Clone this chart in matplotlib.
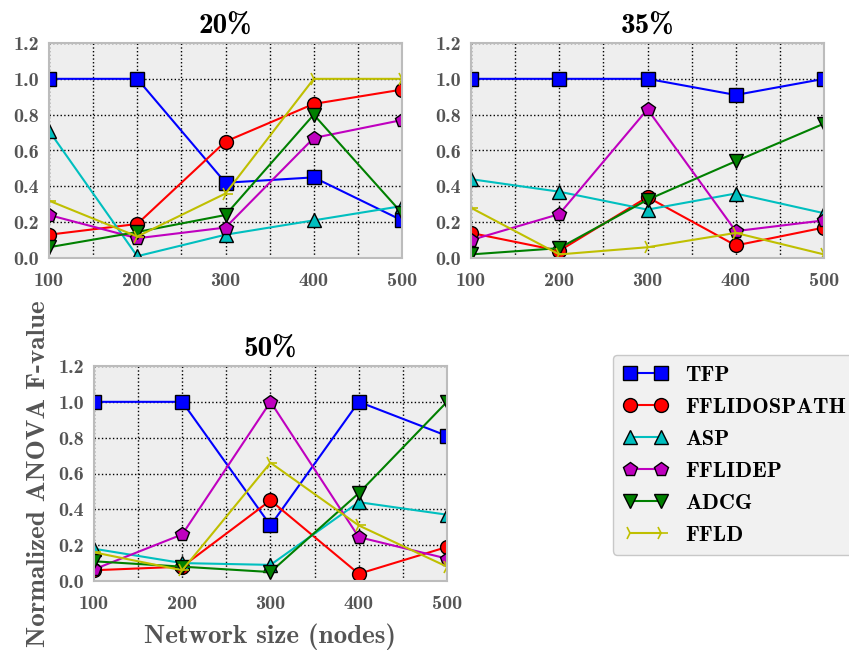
import numpy as np
import matplotlib
matplotlib.use("Agg")
import matplotlib.pyplot as plt
from matplotlib.ticker import MultipleLocator

# network sizes
sizes = [100, 200, 300, 400, 500]

methods = ["TFP", "FFLIDOSPATH", "ASP", "FFLIDEP", "ADCG", "FFLD"]
colors = ["b", "r", "c", "m", "g", "y"]
markers = ["s", "o", "^", "p", "v", "4"]

# normalized ANOVA F-values, one list per method
p20_tfp = [1.0, 1.0, 0.42, 0.45, 0.21]
p20_ffl_ospath = [0.13, 0.19, 0.65, 0.86, 0.94]
p20_asp = [0.71, 0.01, 0.13, 0.21, 0.29]
p20_fflidep = [0.24, 0.11, 0.17, 0.67, 0.77]
p20_adcg = [0.06, 0.145, 0.24, 0.80, 0.25]
p20_ffld = [0.32, 0.12, 0.36, 1.0, 1.0]

p35_tfp = [1.0, 1.0, 1.0, 0.91, 1.0]
p35_ffl_ospath = [0.14, 0.04, 0.34, 0.07, 0.17]
p35_asp = [0.44, 0.37, 0.27, 0.36, 0.25]
p35_fflidep = [0.10, 0.245, 0.83, 0.15, 0.21]
p35_adcg = [0.02, 0.055, 0.325, 0.54, 0.75]
p35_ffld = [0.28, 0.02, 0.06, 0.14, 0.02]

p50_tfp = [1.0, 1.0, 0.31, 1.0, 0.81]
p50_ffl_ospath = [0.06, 0.08, 0.45, 0.04, 0.19]
p50_asp = [0.18, 0.10, 0.09, 0.44, 0.37]
p50_fflidep = [0.065, 0.26, 1.0, 0.245, 0.125]
p50_adcg = [0.11, 0.08, 0.05, 0.49, 1.0]
p50_ffld = [0.16, 0.06, 0.66, 0.31, 0.08]

panels = {
    "20%": [p20_tfp, p20_ffl_ospath, p20_asp, p20_fflidep, p20_adcg, p20_ffld],
    "35%": [p35_tfp, p35_ffl_ospath, p35_asp, p35_fflidep, p35_adcg, p35_ffld],
    "50%": [p50_tfp, p50_ffl_ospath, p50_asp, p50_fflidep, p50_adcg, p50_ffld],
}

plt.rcParams["font.family"] = ["cmb10", "DejaVu Serif"]
plt.rcParams["axes.unicode_minus"] = False

W, H = 849, 656
fig = plt.figure(figsize=(W / 100, H / 100), dpi=100)

# axes boxes in pixels: left, top, right, bottom
boxes = {
    "20%": (49, 43, 402, 258),
    "35%": (471, 43, 824, 258),
    "50%": (94, 366, 447, 581),
}

tick_color = "#555555"
handles = []
for title, series in panels.items():
    l, t, r, b = boxes[title]
    ax = fig.add_axes([l / W, 1 - b / H, (r - l) / W, (b - t) / H])
    ax.set_facecolor("#eeeeee")
    for sp in ax.spines.values():
        sp.set_color("#bcbcbc")
        sp.set_linewidth(1.5)
    lines = []
    for vals, c, m, name in zip(series, colors, markers, methods):
        ln, = ax.plot(sizes, vals, color=c, marker=m, markersize=10,
                      markeredgecolor="k" if m != "4" else c,
                      markeredgewidth=1 if m != "4" else 1.2,
                      linewidth=1.5, label=name)
        lines.append(ln)
    handles = lines
    ax.set_xlim(100, 500)
    ax.set_ylim(0, 1.2)
    ax.xaxis.set_major_locator(MultipleLocator(100))
    ax.xaxis.set_minor_locator(MultipleLocator(50))
    ax.yaxis.set_major_locator(MultipleLocator(0.2))
    ax.yaxis.set_major_formatter(matplotlib.ticker.FormatStrFormatter("%.1f"))
    ax.grid(True, which="both", color="k", linestyle=":", linewidth=1)
    ax.set_axisbelow(True)
    ax.tick_params(which="both", length=0, labelsize=14.5, labelcolor=tick_color)
    ax.tick_params(axis="x", pad=10)
    ax.tick_params(axis="y", pad=7)
    ax.set_title(title, fontsize=21, color="k", pad=7)

ax.set_xlabel("Network size (nodes)", fontsize=19.5, color=tick_color, labelpad=8)
ax.set_ylabel("Normalized ANOVA F-value", fontsize=19.5, color=tick_color, labelpad=6)

leg = fig.legend(handles, methods, loc="upper left", bbox_to_anchor=(613 / W, 1 - 355 / H),
                 borderaxespad=0, numpoints=2, fontsize=16, frameon=True, fancybox=True,
                 borderpad=0.45, labelspacing=0.56, handlelength=2.0, handletextpad=0.8)
leg.get_frame().set_facecolor("#eeeeee")
leg.get_frame().set_edgecolor("#bcbcbc")

fig.savefig("out.png", dpi=100)
